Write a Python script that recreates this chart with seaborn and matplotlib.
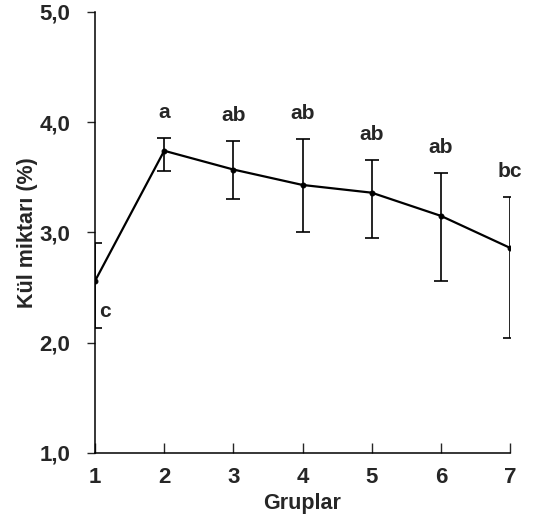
import matplotlib
matplotlib.use("Agg")
import matplotlib.pyplot as plt
import seaborn as sns
import numpy as np
import pandas as pd

groups = [1, 2, 3, 4, 5, 6, 7]
means = [2.56, 3.74, 3.57, 3.43, 3.36, 3.15, 2.86]
upper = [2.90, 3.86, 3.83, 3.85, 3.66, 3.54, 3.32]
lower = [2.13, 3.56, 3.30, 3.00, 2.95, 2.56, 2.04]
letters = ["c", "a", "ab", "ab", "ab", "ab", "bc"]
y_ticks = [1.0, 2.0, 3.0, 4.0, 5.0]
y_tick_labels = ["1,0", "2,0", "3,0", "4,0", "5,0"]

sns.set_style("ticks")
plt.rcParams["font.family"] = ["Liberation Sans", "DejaVu Sans"]

fig = plt.figure(figsize=(5.34, 5.29), dpi=100)
ax = fig.add_axes([0.178, 0.1437, 0.777, 0.834])

df = pd.DataFrame({"Grup": groups, "Kul": means})
sns.lineplot(data=df, x="Grup", y="Kul", ax=ax, color="black", lw=1.6,
             marker="o", markersize=3.5, markeredgecolor="black")

m = np.array(means)
yerr = np.vstack([m - np.array(lower), np.array(upper) - m])
ax.errorbar(groups, means, yerr=yerr, fmt="none", ecolor="black",
            elinewidth=1.2, capsize=5, capthick=1.2)

for i, (g, lab) in enumerate(zip(groups, letters)):
    if i == 0:
        ax.text(g + 0.14, lower[i] + 0.10, lab, ha="center", va="baseline",
                fontsize=15, fontweight="bold")
    else:
        ax.text(g, upper[i] + 0.18, lab, ha="center", va="baseline",
                fontsize=15, fontweight="bold")

ax.set_xlim(1, 7)
ax.set_ylim(1, 5)
ax.set_xticks(groups)
ax.set_xticklabels([str(g) for g in groups], fontsize=16, fontweight="bold")
ax.set_yticks(y_ticks)
ax.set_yticklabels(y_tick_labels, fontsize=16, fontweight="bold")
ax.tick_params(axis="x", direction="in", length=7, width=1, pad=10)
ax.tick_params(axis="y", direction="out", length=6, width=1, pad=12)
ax.set_xlabel("Gruplar", fontsize=15.5, fontweight="bold", labelpad=4)
ax.set_ylabel("Kül miktarı (%)", fontsize=15.5, fontweight="bold", labelpad=1)
for s in ["top", "right"]:
    ax.spines[s].set_visible(False)
for s in ["left", "bottom"]:
    ax.spines[s].set_linewidth(1.1)
    ax.spines[s].set_color("black")

fig.savefig("out.png", dpi=100)
